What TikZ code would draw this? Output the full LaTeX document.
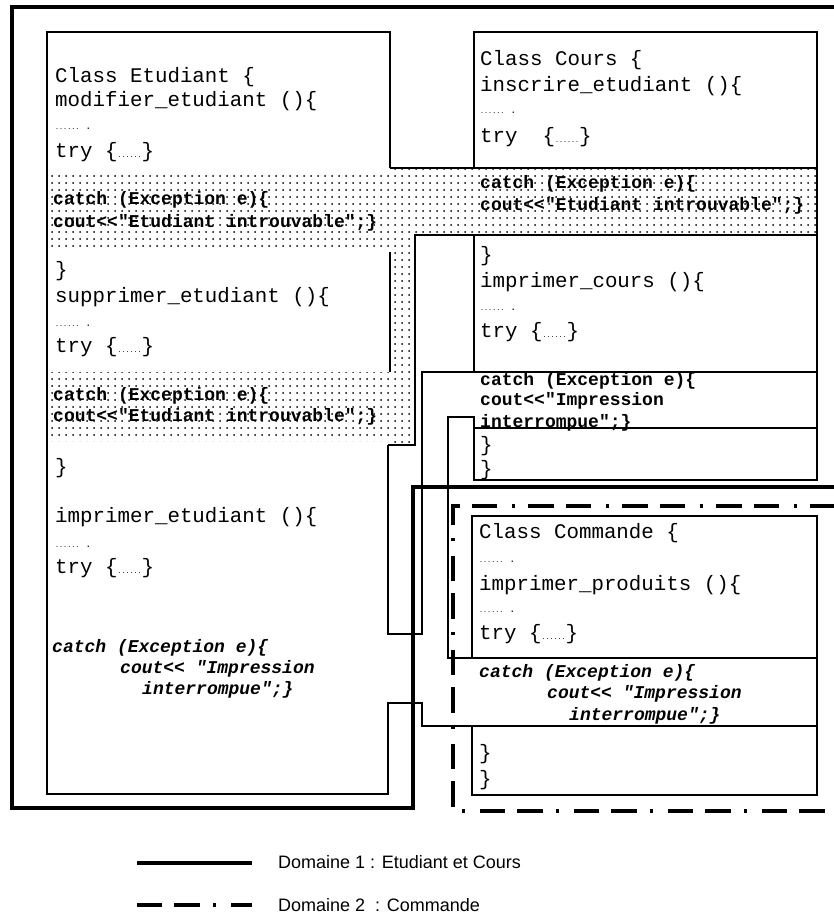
\documentclass[tikz,border=0pt]{standalone}
\usepackage{fontspec}
\setmainfont{Liberation Sans}
\newfontfamily\codefont{Liberation Mono}
\usepackage{tikz}
\usetikzlibrary{patterns.meta}

\tikzdeclarepattern{
  name=stipple,
  type=uncolored,
  bounding box={(0pt,0pt) and (7pt,6.5pt)},
  tile size={(7pt,6.5pt)},
  code={\pgfpathcircle{\pgfpoint{3.5pt}{3.25pt}}{1.1pt}\pgfusepath{fill}}
}
\newcommand\codedots{{\fontsize{6.7}{7}\selectfont......}}
\newcommand\codeellip{\codedots{\fontsize{10}{10}\selectfont\ .}}

\begin{document}
\begin{tikzpicture}[x=1pt,y=-1pt,
  code/.style={anchor=base west,inner sep=0pt,font=\codefont\fontsize{20.8}{24}\selectfont},
  catchtxt/.style={code,font=\codefont\bfseries\fontsize{18}{20}\selectfont},
  catchit/.style={code,font=\codefont\bfseries\itshape\fontsize{18}{20}\selectfont},
  box/.style={line width=1.6pt},
  dom1/.style={line width=4.5pt},
  dom2/.style={line width=4.5pt,dash pattern=on 25pt off 12pt on 26pt off 13pt on 3pt off 15pt},
  legend/.style={anchor=base west,inner sep=0pt,font=\fontsize{18}{20}\selectfont}
]
\useasboundingbox (0,0) rectangle (833,913);

% zone partagee "Etudiant introuvable"
\fill[pattern={stipple},pattern color=black]
  (47,172) rectangle (390,251)
  (390,168) rectangle (817,235)
  (390,168) rectangle (415,445)
  (47,372) rectangle (390,441);

% classes
\draw[box] (390,168) -- (390,32) -- (47,32) -- (47,794) -- (388,794) -- (388,703)
  -- (422,703) -- (422,726) -- (817,726);
\draw[box] (390,252) -- (390,372);
\draw[box] (388,445) -- (415,445) -- (415,235) -- (817,235);
\draw[box] (388,445) -- (388,634) -- (422,634) -- (422,372) -- (817,372);
\draw[box] (390,168) -- (817,168);
\draw[box] (474,168) -- (474,32) -- (817,32) -- (817,480) -- (474,480) -- (474,417)
  -- (448,417) -- (448,658) -- (817,658);
\draw[box] (474,235) -- (474,372);
\draw[box] (474,428) -- (817,428);
\draw[box] (472,658) -- (472,516) -- (817,516) -- (817,795) -- (472,795) -- (472,726);

% domaines
\draw[dom1] (840,7) -- (12,7) -- (12,808) -- (413,808) -- (413,487) -- (840,487);
\draw[dom2,dash phase=33pt] (840,506) -- (453,506) -- (453,811) -- (840,811);

% Etudiant
\node[code] (etu-cls) at (55,82) {Class Etudiant \{};
\node[code] (etu-mod) at (55,106) {modifier\_etudiant ()\{};
\node[code] (etu-dots1) at (55,129) {\codeellip};
\node[code] (etu-try1) at (55,157) {try \{\codedots\}};
\node[catchtxt] (etu-c1a) at (53,204) {catch (Exception e)\{};
\node[catchtxt] (etu-c1b) at (53,227) {cout<<"Etudiant introuvable";\}};
\node[code] (etu-end1) at (55,276) {\}};
\node[code] (etu-sup) at (55,302) {supprimer\_etudiant ()\{};
\node[code] (etu-dots2) at (55,326) {\codeellip};
\node[code] (etu-try2) at (55,352) {try \{\codedots\}};
\node[catchtxt] (etu-c2a) at (53,400) {catch (Exception e)\{};
\node[catchtxt] (etu-c2b) at (53,421) {cout<<"Etudiant introuvable";\}};
\node[code] (etu-end2) at (55,473) {\}};
\node[code] (etu-imp) at (55,522) {imprimer\_etudiant ()\{};
\node[code] (etu-dots3) at (55,547) {\codeellip};
\node[code] (etu-try3) at (55,573) {try \{\codedots\}};
\node[catchit] (etu-c3a) at (52,652) {catch (Exception e)\{};
\node[catchit] (etu-c3b) at (120,673) {cout<< "Impression};
\node[catchit] (etu-c3c) at (142,694) {interrompue";\}};

% Cours
\node[code] (cou-cls) at (480,65) {Class Cours \{};
\node[code] (cou-ins) at (480,91) {inscrire\_etudiant ()\{};
\node[code] (cou-dots1) at (480,113) {\codeellip};
\node[code] (cou-try1) at (480,142) {try\ \ \{\codedots\}};
\node[catchtxt] (cou-c1a) at (480,188) {catch (Exception e)\{};
\node[catchtxt] (cou-c1b) at (480,210) {cout<<"Etudiant introuvable";\}};
\node[code] (cou-end1) at (480,261) {\}};
\node[code] (cou-imp) at (480,287) {imprimer\_cours ()\{};
\node[code] (cou-dots2) at (480,310) {\codeellip};
\node[code] (cou-try2) at (480,337) {try \{\codedots\}};
\node[catchtxt] (cou-c2a) at (480,385) {catch (Exception e)\{};
\node[catchtxt] (cou-c2b) at (480,405) {cout<<"Impression};
\node[catchtxt] (cou-c2c) at (480,427) {interrompue";\}};
\node[code] (cou-end2) at (480,451) {\}};
\node[code] (cou-end3) at (480,475) {\}};

% Commande
\node[code] (com-cls) at (479,538) {Class Commande \{};
\node[code] (com-dots1) at (479,562) {\codeellip};
\node[code] (com-imp) at (479,590) {imprimer\_produits ()\{};
\node[code] (com-dots2) at (479,612) {\codeellip};
\node[code] (com-try) at (479,639) {try \{\codedots\}};
\node[catchit] (com-ca) at (479,677) {catch (Exception e)\{};
\node[catchit] (com-cb) at (547,698) {cout<< "Impression};
\node[catchit] (com-cc) at (569,720) {interrompue";\}};
\node[code] (com-end1) at (479,759) {\}};
\node[code] (com-end2) at (479,785) {\}};

% legende
\coordinate (leg1-a) at (137,863);
\coordinate (leg1-b) at (252,863);
\draw[dom1] (leg1-a) -- (leg1-b);
\node[legend] (leg1) at (278,868) {Domaine 1 : Etudiant et Cours};
\coordinate (leg2-a) at (137,905);
\coordinate (leg2-b) at (252,905);
\draw[dom2] (leg2-a) -- (leg2-b);
\node[legend] (leg2) at (278,911) {Domaine 2\ \ : Commande};
\end{tikzpicture}
\end{document}
